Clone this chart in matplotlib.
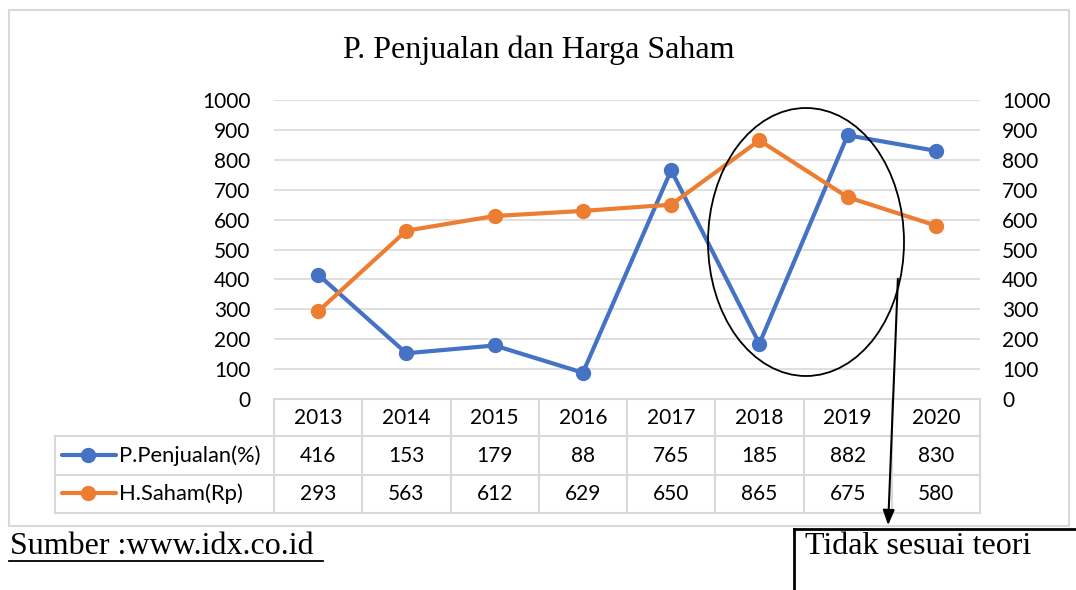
import matplotlib
matplotlib.use("Agg")
import matplotlib.pyplot as plt
from matplotlib.patches import Ellipse, Rectangle

years = ["2013", "2014", "2015", "2016", "2017", "2018", "2019", "2020"]
penjualan = [416, 153, 179, 88, 765, 185, 882, 830]
saham = [293, 563, 612, 629, 650, 865, 675, 580]
series_names = ["P.Penjualan(%)", "H.Saham(Rp)"]
yticks = [0, 100, 200, 300, 400, 500, 600, 700, 800, 900, 1000]

W, H = 1076, 590
BLUE = "#4472C4"
ORANGE = "#ED7D31"
GRID = "#D9D9D9"
sans = "Lato"
serif = "Liberation Serif"
FS = 15

fig = plt.figure(figsize=(W / 100, H / 100), dpi=100)

# plot area in pixels
px0, px1 = 274, 980
py_top, py_bot = 100, 399


def fx(x):
    return x / W


def fy(y):
    return 1 - y / H


ax = fig.add_axes([fx(px0), fy(py_bot), fx(px1) - fx(px0), fy(py_top) - fy(py_bot)])
x = list(range(len(years)))
ax.plot(x, penjualan, color=BLUE, lw=3, marker="o", ms=10, solid_capstyle="round", zorder=3)
ax.plot(x, saham, color=ORANGE, lw=3, marker="o", ms=10, solid_capstyle="round", zorder=3)
ax.set_xlim(-0.5, len(years) - 0.5)
ax.set_ylim(0, 1000)
ax.set_yticks(yticks)
ax.set_xticks([])
for v in yticks[1:]:
    ax.axhline(v, color=GRID, lw=1.2, zorder=1)
for s in ax.spines.values():
    s.set_visible(False)
ax.tick_params(axis="y", length=0, pad=17, labelsize=FS)
for lab in ax.get_yticklabels():
    lab.set_fontfamily(sans)
ax.patch.set_visible(False)

ax2 = ax.twinx()
ax2.set_ylim(0, 1000)
ax2.set_yticks(yticks)
for s in ax2.spines.values():
    s.set_visible(False)
ax2.tick_params(axis="y", length=0, pad=16, labelsize=FS)
for lab in ax2.get_yticklabels():
    lab.set_fontfamily(sans)

# overlay in pixel coordinates
ov = fig.add_axes([0, 0, 1, 1], zorder=5)
ov.set_xlim(0, W)
ov.set_ylim(H, 0)
ov.axis("off")

# chart border
ov.add_patch(Rectangle((9, 10), 1060, 516, fill=False, ec=GRID, lw=1.5))

ov.text(539, 50, "P. Penjualan dan Harga Saham", family=serif, fontsize=23,
        ha="center", va="center")

# data table
colw = (px1 - px0) / len(years)
rows_y = [399, 436, 475, 513]
ov.plot([px0, px1], [rows_y[0], rows_y[0]], color=GRID, lw=1.5)
for yy in rows_y[1:]:
    ov.plot([55, px1], [yy, yy], color=GRID, lw=1.5)
ov.plot([55, 55], [rows_y[1], rows_y[3]], color=GRID, lw=1.5)
for i in range(len(years) + 1):
    xx = px0 + i * colw
    ov.plot([xx, xx], [rows_y[0], rows_y[3]], color=GRID, lw=1.5)
for i, yr in enumerate(years):
    cx = px0 + (i + 0.5) * colw
    ov.text(cx, 418, yr, family=sans, fontsize=FS, ha="center", va="center")
    ov.text(cx, 456, str(penjualan[i]), family=sans, fontsize=FS, ha="center", va="center")
    ov.text(cx, 494, str(saham[i]), family=sans, fontsize=FS, ha="center", va="center")
for name, col, yy in zip(series_names, [BLUE, ORANGE], [455, 493]):
    ov.plot([62, 116], [yy, yy], color=col, lw=3, solid_capstyle="round")
    ov.plot([88], [yy], marker="o", ms=10, color=col)
    ov.text(119, yy + 1, name, family=sans, fontsize=FS + 0.8, ha="left", va="center")

# annotation ellipse + arrow
ov.add_patch(Ellipse((806, 242), 196, 268, fill=False, ec="black", lw=1.3))
ov.annotate("", xy=(888, 528), xytext=(898, 276),
            arrowprops=dict(arrowstyle="-|>,head_width=0.35,head_length=0.9",
                            color="black", lw=1.5))
ov.plot([794, W], [529, 529], color="black", lw=2)
ov.plot([794, 794], [529, H], color="black", lw=2)
ov.text(805, 547, "Tidak sesuai teori", family=serif, fontsize=23, ha="left", va="center")

ov.text(10, 547, "Sumber :www.idx.co.id ", family=serif, fontsize=23, ha="left", va="center")
ov.plot([9, 323], [561, 561], color="black", lw=1.3)

fig.savefig("out.png", dpi=100)
